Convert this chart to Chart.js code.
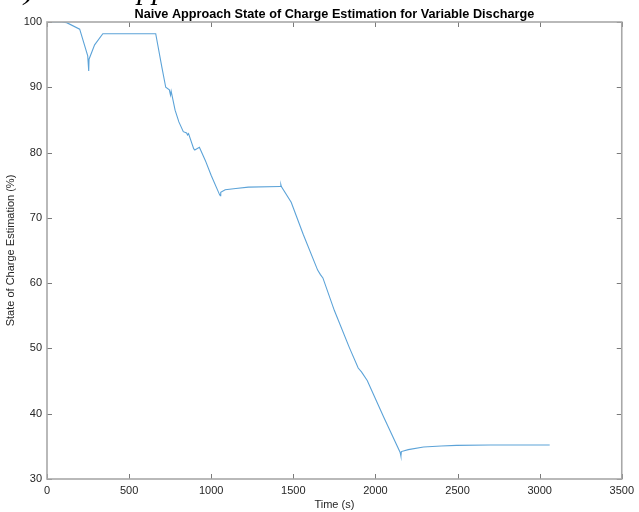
<!DOCTYPE html>
<html>
<head>
<meta charset="utf-8">
<script src="https://cdn.jsdelivr.net/npm/chart.js@4.4.1/dist/chart.umd.min.js"></script>
<style>
  html, body { margin: 0; padding: 0; background: #fff; overflow: hidden; }
  #wrap { width: 639px; height: 512px; position: relative; }
</style>
</head>
<body>
<div id="wrap"><canvas id="c" width="639" height="512"></canvas></div>
<script>
// ---- data ----
const timeSeconds = [0, 90, 120, 199, 248, 254, 256, 290, 340, 662, 700, 723, 745, 752, 756, 780, 803, 830, 850, 856, 862, 893, 900, 928, 964, 1000, 1050, 1055, 1058, 1085, 1150, 1226, 1420, 1424, 1427, 1487, 1560, 1648, 1665, 1680, 1750, 1840, 1895, 1915, 1950, 2050, 2150, 2155, 2158, 2200, 2293, 2400, 2494, 2700, 3061];
const socEstimate = [100, 100, 99.9, 98.9, 94.8, 92.5, 94.3, 96.5, 98.2, 98.2, 93.0, 90.0, 89.6, 88.8, 89.4, 86.5, 84.7, 83.2, 83.0, 82.7, 82.9, 80.6, 80.4, 80.8, 78.8, 76.5, 73.6, 73.4, 73.9, 74.3, 74.5, 74.7, 74.8, 75.1, 74.8, 72.4, 67.5, 62.0, 61.3, 60.8, 55.8, 50.2, 47.0, 46.4, 45.1, 39.5, 34.1, 33.5, 34.2, 34.5, 34.9, 35.05, 35.15, 35.2, 35.2];
const xTicks = [0, 500, 1000, 1500, 2000, 2500, 3000, 3500];
const yTicks = [30, 40, 50, 60, 70, 80, 90, 100];
const chartTitle = 'Naive Approach State of Charge Estimation for Variable Discharge';
const xLabel = 'Time (s)';
const yLabel = 'State of Charge Estimation (%)';
const captionText = 'b) Naive Approach Results';

const points = timeSeconds.map((t, i) => ({ x: t, y: socEstimate[i] }));

const FONT = '"Liberation Sans", Arial, Helvetica, sans-serif';

const matlabBox = {
  id: 'matlabBox',
  afterDraw(chart) {
    const { ctx, chartArea: a, scales: { x, y } } = chart;
    ctx.save();
    // inward ticks
    ctx.strokeStyle = '#7a7a7a';
    ctx.lineWidth = 1;
    const tl = 5;
    ctx.beginPath();
    xTicks.forEach(v => {
      const px = Math.round(x.getPixelForValue(v)) + 0.5;
      ctx.moveTo(px, a.bottom); ctx.lineTo(px, a.bottom - tl);
      ctx.moveTo(px, a.top); ctx.lineTo(px, a.top + tl);
    });
    yTicks.forEach(v => {
      const py = Math.round(y.getPixelForValue(v)) + 0.5;
      ctx.moveTo(a.left, py); ctx.lineTo(a.left + tl, py);
      ctx.moveTo(a.right, py); ctx.lineTo(a.right - tl, py);
    });
    ctx.stroke();
    // box
    ctx.strokeStyle = '#a8a8a8';
    ctx.lineWidth = 1.6;
    ctx.strokeRect(a.left, a.top, a.right - a.left, a.bottom - a.top);
    // title centred over the axes
    ctx.fillStyle = '#000';
    ctx.font = 'bold 12.7px ' + FONT;
    ctx.textAlign = 'center';
    ctx.textBaseline = 'alphabetic';
    ctx.fillText(chartTitle, (a.left + a.right) / 2, 17.5);
    // cropped caption at very top (only its lowest part is visible)
    ctx.font = 'italic 30px "Liberation Serif", "Times New Roman", serif';
    ctx.textAlign = 'left';
    ctx.fillText(captionText, 9, -1.5);
    ctx.restore();
  }
};

new Chart(document.getElementById('c'), {
  type: 'line',
  data: {
    datasets: [{
      data: points,
      borderColor: 'rgb(92,163,216)',
      borderWidth: 1.1,
      pointRadius: 0,
      tension: 0,
      fill: false
    }]
  },
  options: {
    responsive: false,
    animation: false,
    layout: { padding: { left: 0, right: 0, top: 22, bottom: 0 } },
    plugins: {
      legend: { display: false },
      tooltip: { enabled: false },
      title: { display: false }
    },
    scales: {
      x: {
        type: 'linear',
        min: 0, max: 3500,
        afterBuildTicks: s => { s.ticks = xTicks.map(v => ({ value: v })); },
        afterFit: s => { s.height = 33; },
        grid: { display: false, drawTicks: false },
        border: { display: false },
        ticks: { color: '#262626', font: { family: FONT, size: 11 }, padding: 5, maxRotation: 0, callback: v => String(v) },
        title: { display: true, text: xLabel, color: '#262626', font: { family: FONT, size: 11 }, padding: { top: 0, bottom: 0 } }
      },
      y: {
        type: 'linear',
        min: 30, max: 100,
        afterBuildTicks: s => { s.ticks = yTicks.map(v => ({ value: v })); },
        afterFit: s => { s.width = 47; },
        grid: { display: false, drawTicks: false },
        border: { display: false },
        ticks: { color: '#262626', font: { family: FONT, size: 11 }, padding: 5, callback: v => String(v) },
        title: { display: true, text: yLabel, color: '#262626', font: { family: FONT, size: 11 }, padding: { top: 4, bottom: 0 } }
      }
    }
  },
  plugins: [matlabBox]
});
</script>
</body>
</html>
